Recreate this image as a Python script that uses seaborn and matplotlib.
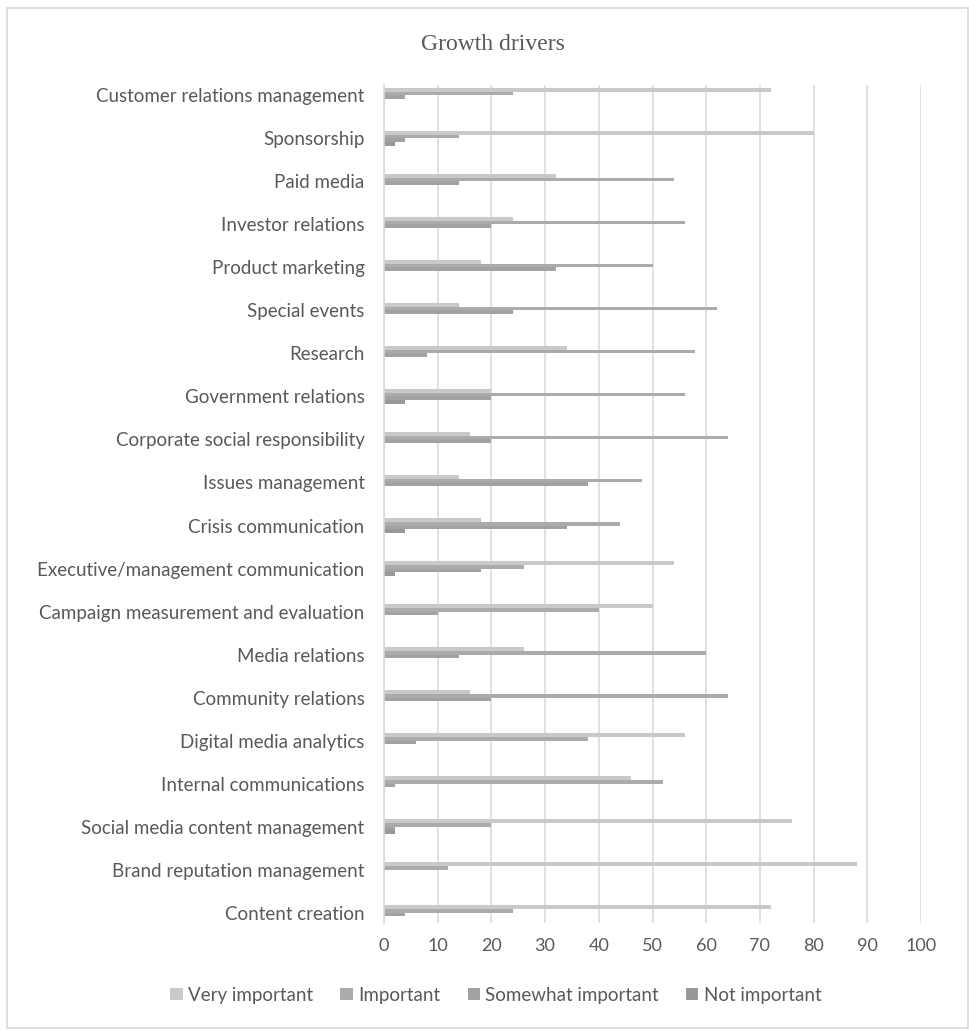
import matplotlib
matplotlib.use("Agg")
import matplotlib.pyplot as plt
from matplotlib.patches import Rectangle
import seaborn as sns
import pandas as pd

# Growth drivers, share of respondents (%) per importance level
drivers = [
    "Customer relations management",
    "Sponsorship",
    "Paid media",
    "Investor relations",
    "Product marketing",
    "Special events",
    "Research",
    "Government relations",
    "Corporate social responsibility",
    "Issues management",
    "Crisis communication",
    "Executive/management communication",
    "Campaign measurement and evaluation",
    "Media relations",
    "Community relations",
    "Digital media analytics",
    "Internal communications",
    "Social media content management",
    "Brand reputation management",
    "Content creation",
]
levels = ["Very important", "Important", "Somewhat important", "Not important"]

very_important = [72, 80, 32, 24, 18, 14, 34, 20, 16, 14, 18, 54, 50, 26, 16, 56, 46, 76, 88, 72]
important = [24, 14, 54, 56, 50, 62, 58, 56, 64, 48, 44, 26, 40, 60, 64, 38, 52, 20, 12, 24]
somewhat_important = [4, 4, 14, 20, 32, 24, 8, 20, 20, 38, 34, 18, 10, 14, 20, 6, 2, 2, 0, 4]
not_important = [0, 2, 0, 0, 0, 0, 0, 4, 0, 0, 4, 2, 0, 0, 0, 0, 0, 2, 0, 0]

x_ticks = [0, 10, 20, 30, 40, 50, 60, 70, 80, 90, 100]

colors = ["#C9C9C9", "#ABABAD", "#A2A2A4", "#98989B"]
text_color = "#595959"
grid_color = "#D9D9D9"

series = [very_important, important, somewhat_important, not_important]
rows = []
for level, vals in zip(levels, series):
    for d, v in zip(drivers, vals):
        rows.append({"driver": d, "level": level, "value": v})
df = pd.DataFrame(rows)

sns.set_theme(style="white")
plt.rcParams["font.family"] = ["Lato", "DejaVu Sans"]

W, H = 970, 1030
fig = plt.figure(figsize=(W / 100, H / 100), dpi=100)
ax = fig.add_axes([384 / W, 1 - 923 / H, 537 / W, 838 / H])

sns.barplot(
    data=df, x="value", y="driver", hue="level",
    order=drivers, hue_order=levels, palette=colors,
    orient="h", width=0.344, dodge=True, gap=0,
    saturation=1, errorbar=None, linewidth=0, ax=ax,
)

handles, labels = ax.get_legend_handles_labels()
if ax.get_legend() is not None:
    ax.get_legend().remove()

ax.set_xlim(0, 100)
ax.set_ylim(len(drivers) - 1 + 0.244, -0.244)
ax.set_xticks(x_ticks)
ax.set_xticklabels([str(t) for t in x_ticks])
ax.set_xlabel("")
ax.set_ylabel("")

ax.set_axisbelow(True)
ax.grid(axis="x", color=grid_color, linewidth=1.1)
ax.grid(axis="y", visible=False)
for side in ["top", "right", "bottom"]:
    ax.spines[side].set_visible(False)
ax.spines["left"].set_color(grid_color)
ax.spines["left"].set_linewidth(1.1)

ax.tick_params(axis="y", length=0, pad=14, labelsize=13.5, labelcolor=text_color)
ax.tick_params(axis="x", length=0, pad=11, labelsize=13, labelcolor=text_color)

fig.text(493 / W, 1 - 45 / H, "Growth drivers", ha="center", va="center",
         fontsize=17, color=text_color, family=["Liberation Serif", "DejaVu Serif"])

leg = fig.legend(
    handles, labels, loc="center", bbox_to_anchor=(496 / W, 1 - 995 / H),
    ncol=4, frameon=False, fontsize=13.5, handlelength=0.65, handleheight=0.65,
    handletextpad=0.3, columnspacing=1.45,
)
for t in leg.get_texts():
    t.set_color(text_color)

fig.patches.append(Rectangle((7 / W, 2 / H), 961 / W, 1 - 10 / H,
                             transform=fig.transFigure, fill=False,
                             edgecolor=grid_color, linewidth=1.2))

fig.savefig("out.png", dpi=100, facecolor="white")
